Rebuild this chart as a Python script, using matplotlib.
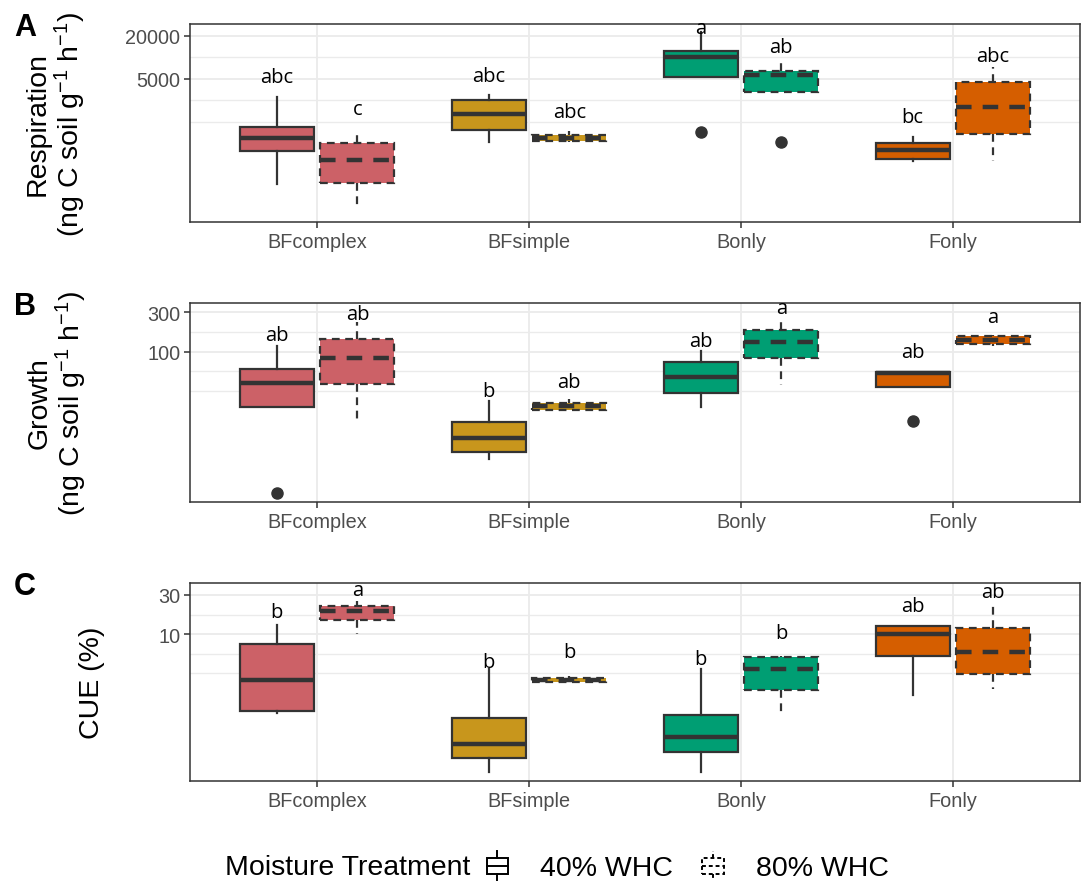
import matplotlib
matplotlib.use("Agg")
import matplotlib.pyplot as plt
from matplotlib.legend_handler import HandlerBase
from matplotlib.patches import Rectangle
from matplotlib.lines import Line2D
from matplotlib.ticker import FixedLocator, NullFormatter

plt.rcParams['font.family'] = ['Liberation Sans', 'DejaVu Sans']
plt.rcParams['mathtext.fontset'] = 'custom'
plt.rcParams['mathtext.rm'] = 'Liberation Sans'
plt.rcParams['mathtext.it'] = 'Liberation Sans:italic'

# ---------------- data ----------------
categories = ["BFcomplex", "BFsimple", "Bonly", "Fonly"]
treatments = ["40% WHC", "80% WHC"]
colors = ["#CC6167", "#C8961C", "#009E73", "#D55E00"]

# five-number summaries per category: [whisker low, Q1, median, Q3, whisker high]
resp_40 = [[169, 490, 745, 1064, 2800],
           [655, 964, 1620, 2540, 2990],
           [5330, 5330, 10160, 12330, 22750],
           [355, 378, 506, 634, 769]]
resp_80 = [[75, 175, 366, 634, 964],
           [655, 676, 745, 821, 934],
           [3290, 3290, 5690, 6470, 9230],
           [355, 848, 2030, 4540, 7360]]
resp_out_40 = [[], [], [904], []]
resp_out_80 = [[], [], [655], []]
resp_letters_40 = ["abc", "abc", "a", "bc"]
resp_letters_80 = ["c", "abc", "ab", "abc"]
resp_letter_y_40 = [5330, 5510, 25880, 1470]
resp_letter_y_80 = [1900, 1730, 14030, 10500]

grow_40 = [[21.6, 21.6, 41.4, 61.8, 118],
           [5.0, 6.2, 9.0, 14.2, 25.5],
           [21.2, 31.4, 49.8, 75.6, 103],
           [37.7, 37.7, 54.8, 56.3, 56.3]]
grow_80 = [[14.9, 40.6, 84.6, 143, 227],
           [19.9, 19.9, 22.0, 23.9, 26.7],
           [39.5, 83.2, 132, 185, 227],
           [118, 124, 140, 156, 159]]
grow_out_40 = [[1.93], [], [], [14.6]]
grow_out_80 = [[], [], [], []]
grow_letters_40 = ["ab", "b", "ab", "ab"]
grow_letters_80 = ["ab", "ab", "a", "a"]
grow_letter_y_40 = [159, 33.7, 136, 100]
grow_letter_y_80 = [286, 43.3, 335, 261]

cue_40 = [[1.10, 1.14, 2.74, 7.55, 13.0],
          [0.207, 0.303, 0.461, 0.933, 3.73],
          [0.207, 0.368, 0.556, 1.03, 3.73],
          [1.80, 5.35, 10.0, 12.4, 12.6]]
cue_80 = [[10.0, 15.0, 19.3, 22.2, 25.5],
          [2.57, 2.57, 2.72, 2.88, 3.10],
          [1.10, 2.09, 3.73, 5.28, 5.35],
          [2.13, 3.24, 5.98, 11.9, 24.4]]
cue_out_40 = [[], [], [], []]
cue_out_80 = [[], [], [], []]
cue_letters_40 = ["b", "b", "b", "ab"]
cue_letters_80 = ["a", "b", "b", "ab"]
cue_letter_y_40 = [18.4, 4.51, 4.95, 22.2]
cue_letter_y_80 = [34.8, 6.08, 10.3, 32.4]

panels = [
    dict(tag="A", s40=resp_40, s80=resp_80, o40=resp_out_40, o80=resp_out_80,
         l40=resp_letters_40, l80=resp_letters_80, ly40=resp_letter_y_40, ly80=resp_letter_y_80,
         ylim=(49.7, 29400), ticks=[20000, 5000], grid=[10000, 2500, 1250],
         ylabel=["Respiration", "(ng C soil g$^{-1}$ h$^{-1}$)"]),
    dict(tag="B", s40=grow_40, s80=grow_80, o40=grow_out_40, o80=grow_out_80,
         l40=grow_letters_40, l80=grow_letters_80, ly40=grow_letter_y_40, ly80=grow_letter_y_80,
         ylim=(1.52, 389), ticks=[300, 100], grid=[173, 57.7, 33.3],
         ylabel=["Growth", "(ng C soil g$^{-1}$ h$^{-1}$)"]),
    dict(tag="C", s40=cue_40, s80=cue_80, o40=cue_out_40, o80=cue_out_80,
         l40=cue_letters_40, l80=cue_letters_80, ly40=cue_letter_y_40, ly80=cue_letter_y_80,
         ylim=(0.161, 42), ticks=[30, 10], grid=[17.3, 5.77, 3.33],
         ylabel=["CUE (%)"]),
]

# ---------------- layout ----------------
W, H = 1083, 887
fig = plt.figure(figsize=(W / 100, H / 100), dpi=100)
frames = [(190, 25, 1080, 223), (190, 304, 1080, 503), (190, 584, 1080, 782)]
ylabel_x = [[38, 70], [40, 71], [92]]

EDGE = "#333333"
GRID = "#EBEBEB"
DASH = (0, (3.5, 2.5))
offset = 0.19
bw = 0.35

for p, (l, t, r, b), lxs in zip(panels, frames, ylabel_x):
    ax = fig.add_axes([l / W, (H - b) / H, (r - l) / W, (b - t) / H])
    ax.set_yscale("log")
    ax.set_ylim(*p["ylim"])
    ax.set_xlim(-0.6, len(categories) - 0.4)
    for i in range(len(categories)):
        for stats_all, outs, ls, sgn in ((p["s40"], p["o40"], "-", -1), (p["s80"], p["o80"], DASH, 1)):
            lo, q1, med, q3, hi = stats_all[i]
            st = dict(whislo=lo, q1=q1, med=med, q3=q3, whishi=hi, fliers=outs[i])
            ax.bxp([st], positions=[i + sgn * offset], widths=bw, patch_artist=True,
                   showcaps=False, manage_ticks=False,
                   boxprops=dict(facecolor=colors[i], edgecolor=EDGE, linewidth=1.6, linestyle=ls),
                   whiskerprops=dict(color=EDGE, linewidth=1.6, linestyle=ls),
                   medianprops=dict(color=EDGE, linewidth=3.2, linestyle=ls, solid_capstyle="butt"),
                   flierprops=dict(marker="o", markerfacecolor=EDGE, markeredgecolor=EDGE,
                                   markersize=8, linestyle="none"))
        ax.text(i - offset, p["ly40"][i], p["l40"][i], ha="center", va="center",
                fontsize=14.5, family="Open Sans", color="black", zorder=5)
        ax.text(i + offset, p["ly80"][i], p["l80"][i], ha="center", va="center",
                fontsize=14.5, family="Open Sans", color="black", zorder=5)

    ax.set_xticks(range(len(categories)))
    ax.set_xticklabels(categories)
    ax.yaxis.set_major_locator(FixedLocator(p["ticks"]))
    ax.set_yticklabels([str(v) for v in p["ticks"]])
    ax.yaxis.set_minor_locator(FixedLocator(p["grid"]))
    ax.yaxis.set_minor_formatter(NullFormatter())
    ax.tick_params(axis="both", which="major", length=4, width=1.1, color=EDGE,
                   labelsize=14.3, labelcolor="#4D4D4D", pad=3)
    ax.tick_params(axis="y", which="minor", length=0)
    ax.grid(True, which="major", color=GRID, linewidth=1.3, zorder=0)
    ax.grid(True, which="minor", axis="y", color=GRID, linewidth=1.0, zorder=0)
    ax.set_axisbelow(True)
    for s in ax.spines.values():
        s.set_color(EDGE)
        s.set_linewidth(1.1)

    for txt, lx in zip(p["ylabel"], lxs):
        fig.text(lx / W, 1 - ((t + b) / 2) / H, txt, rotation=90, ha="center", va="center",
                 fontsize=20.5, color="black")
    fig.text(25 / W, 1 - (t + 3) / H, p["tag"], ha="center", va="center",
             fontsize=22, fontweight="bold")


# ---------------- legend ----------------
class BoxKey(HandlerBase):
    def __init__(self, ls):
        super().__init__()
        self.ls = ls

    def create_artists(self, legend, orig_handle, xdescent, ydescent, width, height, fontsize, trans):
        cx = width / 2 - xdescent
        cy = height / 2 - ydescent
        bw_ = width * 0.95
        bh = height * 0.62
        rect = Rectangle((cx - bw_ / 2, cy - bh / 2), bw_, bh, facecolor="white",
                         edgecolor="black", linewidth=1.4, linestyle=self.ls, transform=trans)
        med = Line2D([cx - bw_ / 2, cx + bw_ / 2], [cy, cy], color="black", linewidth=1.4,
                     linestyle=self.ls, transform=trans)
        w1 = Line2D([cx, cx], [cy + bh / 2, cy + height * 0.55], color="black", linewidth=1.4,
                    linestyle=self.ls, transform=trans)
        w2 = Line2D([cx, cx], [cy - bh / 2, cy - height * 0.55], color="black", linewidth=1.4,
                    linestyle=self.ls, transform=trans)
        return [rect, med, w1, w2]


fig.text(225 / W, 1 - 868 / H, "Moisture Treatment", ha="left", va="center", fontsize=20.5)
h1 = Line2D([], [])
h2 = Line2D([], [], linestyle="--")
fig.legend([h1, h2], treatments, loc="center left", bbox_to_anchor=(486 / W, 1 - 868 / H),
           ncol=2, frameon=False, fontsize=20.5, handlelength=0.8, handleheight=1.05,
           handletextpad=1.1, columnspacing=1.0, borderpad=0, borderaxespad=0,
           handler_map={h1: BoxKey("-"), h2: BoxKey((0, (2, 1.5)))})

fig.savefig("out.png", dpi=100)
